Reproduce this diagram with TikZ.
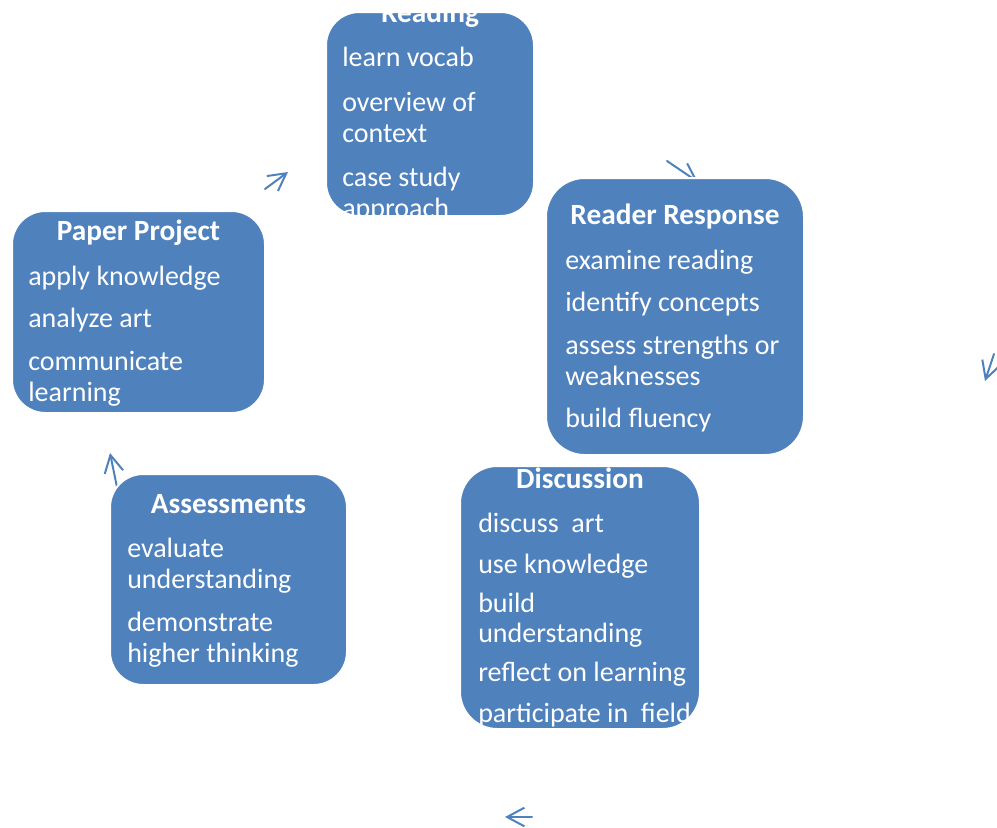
\documentclass[tikz,border=0pt]{standalone}
\usepackage{fontspec}
\setmainfont{Carlito}
\usetikzlibrary{arrows.meta}
\definecolor{boxblue}{HTML}{4F81BD}
\tikzset{
  box/.style={fill=boxblue, draw=white, line width=1.5pt, rounded corners=25pt, inner sep=0pt},
  ttl/.style={anchor=base, inner sep=0pt, text=white, font=\fontsize{22}{26}\selectfont\bfseries},
  itm/.style={anchor=base west, inner sep=0pt, text=white, font=\fontsize{21}{25}\selectfont},
  cyc/.style={->, draw=boxblue, line width=1.5pt, line cap=round}
}
\begin{document}
\begin{tikzpicture}[x=0.75pt, y=-0.75pt, line join=round, >={Straight Barb[length=13pt,width=14pt]}]
  \useasboundingbox (0,0) rectangle (997,828);
  % arrow heads of the cycle
  \coordinate (a1s) at (265,189); \coordinate (a1t) at (288,172);
  \coordinate (a2s) at (667,161); \coordinate (a2t) at (698,182);
  \coordinate (a3s) at (994,354); \coordinate (a3t) at (985,381);
  \coordinate (a4s) at (532,817); \coordinate (a4t) at (505,817);
  \coordinate (a5s) at (119,497); \coordinate (a5t) at (110,453);
  \draw[cyc] (a1s) -- (a1t);
  \draw[cyc] (a2s) -- (a2t);
  \draw[cyc] (a3s) -- (a3t);
  \draw[cyc] (a4s) -- (a4t);
  \draw[cyc] (a5s) -- (a5t);
  % boxes
  \node[box, minimum width=156pt, minimum height=153pt] (read) at (430,114) {};
  \node[box, minimum width=189.75pt, minimum height=151.5pt] (paper) at (138.5,312) {};
  \node[box, minimum width=193.5pt, minimum height=207.75pt, rounded corners=29pt] (resp) at (675,316.5) {};
  \node[box, minimum width=180pt, minimum height=197.25pt, rounded corners=28pt] (disc) at (580,597.5) {};
  \node[box, minimum width=177.75pt, minimum height=158.25pt] (asmt) at (228.5,579.5) {};
  % Reading
  \begin{scope}
    \clip[rounded corners=25pt] (read.south west) rectangle (read.north east);
    \node[ttl] (read0) at (430,22) {Reading};
    \node[itm] (read1) at (342,66.5) {learn vocab};
    \node[itm] (read2) at (342,111) {overview of};
    \node[itm] (read3) at (342,142) {context};
    \node[itm] (read4) at (342,186) {case study};
    \node[itm] (read5) at (342,217) {approach};
  \end{scope}
  % Paper Project
  \begin{scope}
    \clip[rounded corners=25pt] (paper.south west) rectangle (paper.north east);
    \node[ttl] (paper0) at (138.5,240) {Paper Project};
    \node[itm] (paper1) at (28,285) {apply knowledge};
    \node[itm] (paper2) at (28,327) {analyze art};
    \node[itm] (paper3) at (28,370) {communicate};
    \node[itm] (paper4) at (28,401) {learning};
  \end{scope}
  % Reader Response
  \begin{scope}
    \clip[rounded corners=29pt] (resp.south west) rectangle (resp.north east);
    \node[ttl] (resp0) at (675,224) {Reader Response};
    \node[itm] (resp1) at (565,269) {examine reading};
    \node[itm] (resp2) at (565,311) {identify concepts};
    \node[itm] (resp3) at (565,354) {assess strengths or};
    \node[itm] (resp4) at (565,385) {weaknesses};
    \node[itm] (resp5) at (565,427) {build fluency};
  \end{scope}
  % Discussion
  \begin{scope}
    \clip[rounded corners=28pt] (disc.south west) rectangle (disc.north east);
    \node[ttl] (disc0) at (580,488) {Discussion};
    \node[itm] (disc1) at (478,532) {discuss\ \ art};
    \node[itm] (disc2) at (478,573) {use knowledge};
    \node[itm] (disc3) at (478,612) {build};
    \node[itm] (disc4) at (478,642) {understanding};
    \node[itm] (disc5) at (478,681) {reflect on learning};
    \node[itm] (disc6) at (478,722) {participate in\ \ field};
  \end{scope}
  % Assessments
  \begin{scope}
    \clip[rounded corners=25pt] (asmt.south west) rectangle (asmt.north east);
    \node[ttl] (asmt0) at (228.5,513) {Assessments};
    \node[itm] (asmt1) at (127,557) {evaluate};
    \node[itm] (asmt2) at (127,588) {understanding};
    \node[itm] (asmt3) at (127,631) {demonstrate};
    \node[itm] (asmt4) at (127,662) {higher thinking};
  \end{scope}
\end{tikzpicture}
\end{document}
